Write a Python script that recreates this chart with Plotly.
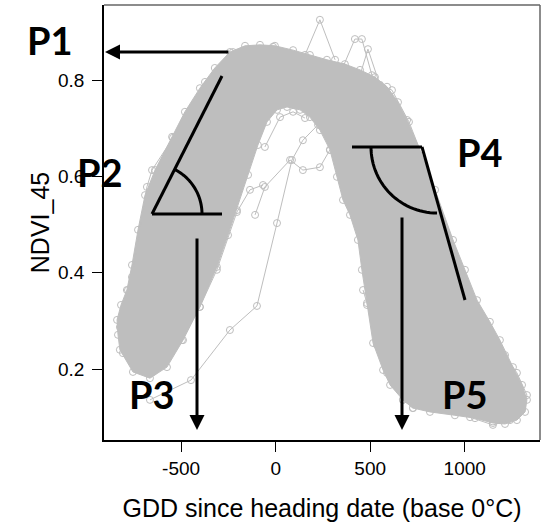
import math
import plotly.graph_objects as go

# ---------------- data ----------------
# outer envelope of the dense band of NDVI curves
band_outer_x = [-834, -839, -818, -787, -760, -728, -691, -638, -548, -480, -401, -322, -242,
                -162, -83, -4, 92, 181, 271, 366, 446, 525, 589, 647, 695, 763, 843, 938,
                1001, 1065, 1133, 1186, 1255, 1303, 1329, 1319, 1276, 1213, 1149, 1054]
band_outer_y = [0.271, 0.302, 0.333, 0.364, 0.416, 0.489, 0.561, 0.613, 0.682, 0.734, 0.783,
                0.825, 0.858, 0.871, 0.873, 0.871, 0.862, 0.852, 0.842, 0.833, 0.821, 0.806,
                0.786, 0.754, 0.717, 0.655, 0.572, 0.468, 0.406, 0.343, 0.298, 0.260, 0.204,
                0.167, 0.136, 0.111, 0.094, 0.086, 0.088, 0.098]
# inner envelope (from lower right, over the apex, to lower left)
band_inner_x = [948, 816, 726, 673, 605, 568, 515, 483, 456, 435, 393, 356, 324, 287, 234, 181,
                129, 60, 7, -46, -94, -146, -205, -252, -311, -401, -490, -575, -665, -755, -824]
band_inner_y = [0.104, 0.111, 0.119, 0.136, 0.167, 0.198, 0.254, 0.333, 0.406, 0.468, 0.520,
                0.551, 0.599, 0.655, 0.696, 0.723, 0.738, 0.744, 0.738, 0.713, 0.665, 0.603,
                0.530, 0.478, 0.412, 0.329, 0.260, 0.204, 0.181, 0.194, 0.240]

# individual (sparse / fringe) curves
curve_a_x = [-665, -448, -242, -99, 7, 86, 144, 224]
curve_a_y = [0.136, 0.177, 0.281, 0.331, 0.503, 0.634, 0.675, 0.707]
curve_b_x = [-109, -57, 76, 144, 234, 287]
curve_b_y = [0.520, 0.578, 0.634, 0.613, 0.619, 0.655]
curve_c_x = [155, 234, 314]
curve_c_y = [0.852, 0.925, 0.842]
curve_d_x = [356, 419, 456, 509]
curve_d_y = [0.827, 0.885, 0.885, 0.810]
curve_e_x = [446, 488, 551, 615, 705, 763]
curve_e_y = [0.810, 0.864, 0.790, 0.779, 0.713, 0.655]
curve_f_x = [-808, -824, -781, -760, -681, -654, -543, -374, -226, -14]
curve_f_y = [0.233, 0.287, 0.364, 0.391, 0.578, 0.613, 0.680, 0.796, 0.858, 0.869]
curve_g_x = [-649, -585, -496, -401, -311, -205, -136, -67]
curve_g_y = [0.194, 0.215, 0.260, 0.329, 0.406, 0.526, 0.572, 0.582]
curve_h_x = [462, 483, 536, 589, 673, 726, 816]
curve_h_y = [0.364, 0.337, 0.250, 0.192, 0.136, 0.119, 0.129]
curve_i_x = [1028, 1149, 1239, 1303, 1329, 1276, 1213]
curve_i_y = [0.100, 0.084, 0.094, 0.119, 0.146, 0.192, 0.229]
curve_j_x = [-57, 23, 92, 155]
curve_j_y = [0.661, 0.723, 0.734, 0.721]

x_ticks = [-500, 0, 500, 1000]
x_tick_text = ["-500", "0", "500", "1000"]
y_ticks = [0.2, 0.4, 0.6, 0.8]
y_tick_text = ["0.2", "0.4", "0.6", "0.8"]

x_title = "GDD since heading date (base 0°C)"
y_title = "NDVI_45"
phase_labels = ["P1", "P2", "P3", "P4", "P5"]

# ---------------- layout constants ----------------
W, H = 544, 522
ML, MR, MT, MB = 104, 4, 5, 82
XR = [-908, 1398]
YR = [0.0527, 0.9557]
GRAY = "#BEBEBE"

PW, PH = W - ML - MR, H - MT - MB


def px2x(px):
    return XR[0] + (px - ML) / PW * (XR[1] - XR[0])


def px2y(py):
    return YR[1] - (py - MT) / PH * (YR[1] - YR[0])


fig = go.Figure()

# dense band
poly_x = band_outer_x + band_inner_x + [band_outer_x[0]]
poly_y = band_outer_y + band_inner_y + [band_outer_y[0]]
fig.add_trace(go.Scatter(x=poly_x, y=poly_y, mode="lines", fill="toself",
                         fillcolor=GRAY, line=dict(color=GRAY, width=1),
                         hoverinfo="skip", showlegend=False))
fig.add_trace(go.Scatter(x=band_outer_x, y=band_outer_y, mode="markers",
                         marker=dict(symbol="circle-open", size=7, color=GRAY, line=dict(width=1)),
                         showlegend=False))
fig.add_trace(go.Scatter(x=band_inner_x, y=band_inner_y, mode="markers",
                         marker=dict(symbol="circle-open", size=7, color=GRAY, line=dict(width=1)),
                         showlegend=False))

for cx, cy in [(curve_a_x, curve_a_y), (curve_b_x, curve_b_y), (curve_c_x, curve_c_y),
               (curve_d_x, curve_d_y), (curve_e_x, curve_e_y), (curve_f_x, curve_f_y),
               (curve_g_x, curve_g_y), (curve_h_x, curve_h_y), (curve_i_x, curve_i_y),
               (curve_j_x, curve_j_y)]:
    fig.add_trace(go.Scatter(x=cx, y=cy, mode="lines+markers",
                             line=dict(color=GRAY, width=1),
                             marker=dict(symbol="circle-open", size=7, color=GRAY,
                                         line=dict(width=1)),
                             showlegend=False))

# ---------------- annotation geometry (pixel positions) ----------------
shapes = []
LW = 3


def seg(p0, p1):
    shapes.append(dict(type="line", xref="x", yref="y",
                       x0=px2x(p0[0]), y0=px2y(p0[1]), x1=px2x(p1[0]), y1=px2y(p1[1]),
                       line=dict(color="black", width=LW)))


def arc(cx, cy, r, a0, a1, n=30):
    pts = []
    for k in range(n + 1):
        a = math.radians(a0 + (a1 - a0) * k / n)
        pts.append((px2x(cx + r * math.cos(a)), px2y(cy - r * math.sin(a))))
    path = "M " + " L ".join(f"{x:.2f},{y:.5f}" for x, y in pts)
    shapes.append(dict(type="path", xref="x", yref="y", path=path,
                       line=dict(color="black", width=LW)))


# P2 angle
seg((152, 214), (222, 214))
seg((152, 214), (222, 76))
arc(152, 214, 50, 0, 63)
# P4 angle
seg((352, 147), (422, 147))
seg((422, 147), (465, 300))
arc(437, 147, 66, 180, 270)

# frame: top / right in gray
shapes.append(dict(type="line", xref="paper", yref="paper", x0=0, y0=1, x1=1, y1=1,
                   line=dict(color="#666666", width=1.5)))
shapes.append(dict(type="line", xref="paper", yref="paper", x0=1, y0=0, x1=1, y1=1,
                   line=dict(color="#666666", width=1.5)))

annotations = []


def arrow(tip, tail):
    annotations.append(dict(x=px2x(tip[0]), y=px2y(tip[1]), xref="x", yref="y",
                            ax=px2x(tail[0]), ay=px2y(tail[1]), axref="x", ayref="y",
                            text="", showarrow=True, arrowhead=2, arrowsize=1,
                            arrowwidth=LW, arrowcolor="black"))


arrow((105, 52), (230, 52))     # P1
arrow((197, 430), (197, 237))   # P3
arrow((402, 430), (402, 216))   # P5

label_pos = [(49.5, 39.5), (100, 172), (152, 394), (480, 152), (465, 394)]
for lab, (lx, ly) in zip(phase_labels, label_pos):
    annotations.append(dict(x=(lx - ML) / PW, y=1 - (ly - MT) / PH, xref="paper", yref="paper",
                            text=f"<b>{lab}</b>", showarrow=False, xanchor="center",
                            yanchor="middle",
                            font=dict(family="Lato", size=38, color="black")))

fig.update_layout(
    width=W, height=H,
    margin=dict(l=ML, r=MR, t=MT, b=MB, pad=0),
    paper_bgcolor="white", plot_bgcolor="white",
    font=dict(family="Liberation Sans, Arial", color="black"),
    shapes=shapes, annotations=annotations,
    showlegend=False,
    xaxis=dict(range=XR, tickmode="array", tickvals=x_ticks, ticktext=x_tick_text,
               ticks="outside", ticklen=10,
               tickwidth=1, tickcolor="black", showline=True, linecolor="black", linewidth=1.5,
               showgrid=False, zeroline=False, tickfont=dict(size=19),
               title=dict(text=x_title, font=dict(size=25), standoff=22)),
    yaxis=dict(range=YR, tickmode="array", tickvals=y_ticks, ticktext=y_tick_text,
               ticks="outside", ticklen=10, tickwidth=1, tickcolor="black", showline=True,
               linecolor="black", linewidth=1.5, showgrid=False, zeroline=False,
               tickfont=dict(size=19), ticklabelstandoff=4,
               title=dict(text=y_title, font=dict(size=25), standoff=1)),
)

fig.write_html("out.html")
